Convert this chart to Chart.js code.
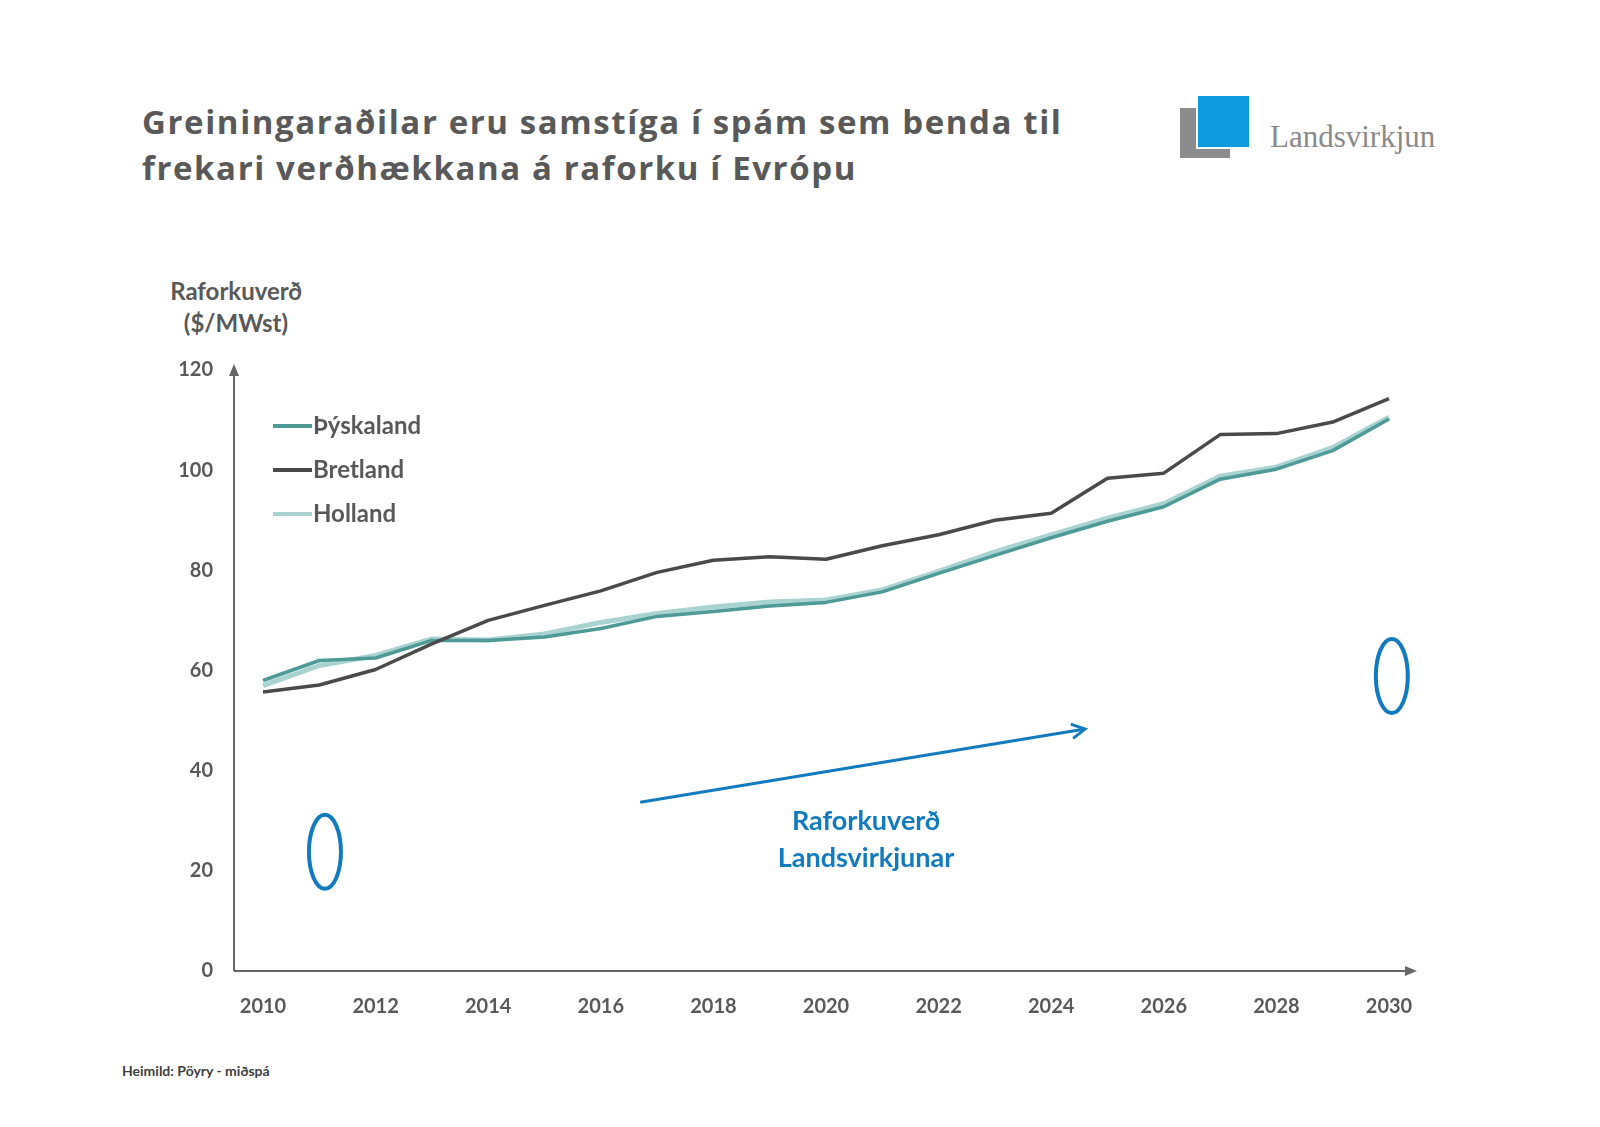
<!DOCTYPE html>
<html lang="is">
<head>
<meta charset="utf-8">
<title>Raforkuverð í Evrópu</title>
<script src="https://cdn.jsdelivr.net/npm/chart.js@4.4.1/dist/chart.umd.min.js"></script>
<style>
  body { margin: 0; background: #fff; }
  #wrap { position: relative; width: 1600px; height: 1127px; overflow: hidden; }
  #chartBox { position: absolute; left: 0; top: 0; width: 1600px; height: 1127px; }
  .title {
    position: absolute; left: 142px; top: 99px;
    font-family: "Open Sans", sans-serif; font-weight: 700; font-size: 33px;
    line-height: 46px; letter-spacing: 1.6px; color: #595959;
  }
  .logo-text {
    position: absolute; left: 1270px; top: 119px;
    font-family: "Liberation Serif", serif; font-size: 31px; color: #8a8a8a;
  }
  .source {
    position: absolute; left: 122px; top: 1062px;
    font-family: Lato, sans-serif; font-weight: 700; font-size: 14px; color: #404040;
  }
  .ytitle {
    position: absolute; left: 136px; top: 275px; width: 200px; text-align: center;
    font-family: Lato, sans-serif; font-weight: 700; font-size: 24px; line-height: 32px; color: #595959;
  }
  .sq { position: absolute; }
</style>
</head>
<body>
<div id="wrap">
  <div class="title">Greiningaraðilar eru samstíga í spám sem benda til<br>frekari verðhækkana á raforku í Evrópu</div>

  <!-- logo -->
  <div class="sq" style="left:1180px;top:108px;width:50px;height:50px;background:#8c8c8c"></div>
  <div class="sq" style="left:1196px;top:94px;width:55px;height:55px;background:#fff"></div>
  <div class="sq" style="left:1198px;top:96px;width:51px;height:51px;background:#0d9ade"></div>
  <div class="logo-text">Landsvirkjun</div>

  <div class="ytitle">Raforkuverð<br>($/MWst)</div>
  <div class="source">Heimild: Pöyry - miðspá</div>

  <div id="chartBox"><canvas id="priceChart"></canvas></div>
</div>

<script>
// ================================
// Data
// ================================

const years = [2010, 2011, 2012, 2013, 2014, 2015, 2016, 2017, 2018, 2019, 2020,
               2021, 2022, 2023, 2024, 2025, 2026, 2027, 2028, 2029, 2030];

const thyskaland = [58, 62, 62.5, 66, 66, 66.7, 68.4, 70.8, 71.8, 72.9, 73.6,
                    75.7, 79.4, 83, 86.5, 89.8, 92.7, 98.2, 100.2, 103.9, 110.2];
const bretland = [55.7, 57.1, 60.2, 65.3, 70, 73, 75.9, 79.6, 82, 82.7, 82.2,
                  84.9, 87.1, 90, 91.4, 98.4, 99.4, 107.1, 107.3, 109.6, 114.3];
const holland = [57, 61, 63, 66.3, 66.1, 67.3, 69.6, 71.4, 72.7, 73.7, 74.1,
                 76.1, 79.8, 83.7, 87.1, 90.4, 93.3, 98.8, 100.6, 104.5, 110.6];

const yTicks = [0, 20, 40, 60, 80, 100, 120];

// Landsvirkjun markers (year, price) and the trend arrow between them
const lvMarkYears = [2011.1, 2030.05];
const lvMarkValues = [23.8, 58.9];
const arrowYears = [2016.7, 2024.6];
const arrowValues = [33.7, 48.3];

const GREY = "#595959";
const BLUE = "#127bbf";

// ================================
// Axes with arrows, legend, notes
// ================================

const extras = {
  id: "extras",
  afterDatasetsDraw(chart) {
    const { ctx, chartArea, scales } = chart;
    const x0 = 234, yBottom = chartArea.bottom;

    ctx.save();
    ctx.strokeStyle = "#666";
    ctx.fillStyle = "#666";
    ctx.lineWidth = 2;

    // y axis
    ctx.beginPath();
    ctx.moveTo(x0, yBottom);
    ctx.lineTo(x0, chartArea.top + 2);
    ctx.stroke();
    ctx.beginPath();
    ctx.moveTo(x0, chartArea.top - 6);
    ctx.lineTo(x0 - 5, chartArea.top + 6);
    ctx.lineTo(x0 + 5, chartArea.top + 6);
    ctx.closePath();
    ctx.fill();

    // x axis
    const xEnd = 1417;
    ctx.beginPath();
    ctx.moveTo(x0, yBottom);
    ctx.lineTo(xEnd - 8, yBottom);
    ctx.stroke();
    ctx.beginPath();
    ctx.moveTo(xEnd, yBottom);
    ctx.lineTo(xEnd - 12, yBottom - 5);
    ctx.lineTo(xEnd - 12, yBottom + 5);
    ctx.closePath();
    ctx.fill();

    // legend
    const legendY = [426, 470, 514];
    chart.data.datasets.forEach((ds, i) => {
      ctx.strokeStyle = ds.borderColor;
      ctx.lineWidth = 4;
      ctx.beginPath();
      ctx.moveTo(273, legendY[i]);
      ctx.lineTo(312, legendY[i]);
      ctx.stroke();
      ctx.fillStyle = GREY;
      ctx.font = "bold 24px Lato";
      ctx.textBaseline = "middle";
      ctx.textAlign = "left";
      ctx.fillText(ds.label, 313, legendY[i]);
    });

    // Landsvirkjun markers
    ctx.strokeStyle = BLUE;
    ctx.lineWidth = 4;
    lvMarkYears.forEach((yr, i) => {
      const px = scales.x.getPixelForValue(yr - years[0]);
      const py = scales.y.getPixelForValue(lvMarkValues[i]);
      ctx.beginPath();
      ctx.ellipse(px, py, 16, 37, 0, 0, Math.PI * 2);
      ctx.stroke();
    });

    // trend arrow
    const ax1 = scales.x.getPixelForValue(arrowYears[0] - years[0]);
    const ay1 = scales.y.getPixelForValue(arrowValues[0]);
    const ax2 = scales.x.getPixelForValue(arrowYears[1] - years[0]);
    const ay2 = scales.y.getPixelForValue(arrowValues[1]);
    const ang = Math.atan2(ay2 - ay1, ax2 - ax1);
    ctx.lineWidth = 3;
    ctx.beginPath();
    ctx.moveTo(ax1, ay1);
    ctx.lineTo(ax2, ay2);
    ctx.stroke();
    ctx.beginPath();
    ctx.moveTo(ax2 - 15 * Math.cos(ang - 0.5), ay2 - 15 * Math.sin(ang - 0.5));
    ctx.lineTo(ax2, ay2);
    ctx.lineTo(ax2 - 15 * Math.cos(ang + 0.5), ay2 - 15 * Math.sin(ang + 0.5));
    ctx.stroke();

    ctx.fillStyle = BLUE;
    ctx.font = "bold 27px Lato";
    ctx.textAlign = "center";
    ctx.fillText("Raforkuverð", 866, 821);
    ctx.fillText("Landsvirkjunar", 866, 858);
    ctx.restore();
  }
};

// ================================
// Chart
// ================================

function renderPriceChart() {
  const ctx = document.getElementById("priceChart").getContext("2d");

  new Chart(ctx, {
    type: "line",
    data: {
      labels: years,
      datasets: [
        { label: "Þýskaland", data: thyskaland, borderColor: "#4e9a96", borderWidth: 3.5, order: 1 },
        { label: "Bretland", data: bretland, borderColor: "#4a4a4a", borderWidth: 3.5, order: 0 },
        { label: "Holland", data: holland, borderColor: "#a9d3d1", borderWidth: 5, order: 2 }
      ]
    },
    options: {
      responsive: true,
      maintainAspectRatio: false,
      animation: false,
      devicePixelRatio: 1,
      elements: { point: { radius: 0 }, line: { tension: 0, borderJoinStyle: "round" } },
      layout: { padding: { top: 370, right: 211, left: 0, bottom: 0 } },
      plugins: { legend: { display: false }, tooltip: { enabled: false } },
      scales: {
        x: {
          offset: false,
          grid: { display: false, drawTicks: false },
          border: { display: false },
          afterFit(scale) { scale.height = 156; },
          ticks: {
            autoSkip: false,
            maxRotation: 0,
            padding: 24,
            color: GREY,
            font: { family: "Lato", weight: "bold", size: 20 },
            callback(value, index) { return years[index] % 2 === 0 ? String(years[index]) : ""; }
          }
        },
        y: {
          min: 0,
          max: 120,
          afterFit(scale) { scale.width = 263; },
          afterBuildTicks(scale) { scale.ticks = yTicks.map(v => ({ value: v })); },
          grid: { display: false, drawTicks: false },
          border: { display: false },
          ticks: {
            padding: 50,
            color: GREY,
            font: { family: "Lato", weight: "bold", size: 20 }
          }
        }
      }
    },
    plugins: [extras]
  });
}

renderPriceChart();
</script>
</body>
</html>
